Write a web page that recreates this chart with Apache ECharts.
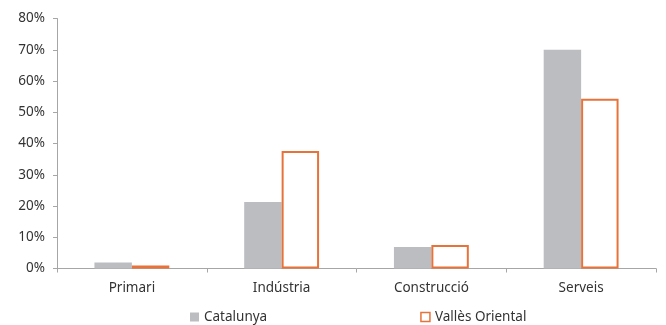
<!DOCTYPE html>
<html><head><meta charset="utf-8">
<script src="https://cdn.jsdelivr.net/npm/echarts@6/dist/echarts.min.js"></script>
<style>html,body{margin:0;padding:0;background:#fff}#c{width:666px;height:325px}</style>
</head><body><div id="c"></div>
<script>
const categories = ['Primari', 'Indústria', 'Construcció', 'Serveis'];
const catalunya = [1.9, 21.3, 6.9, 70.0];
const vallesOriental = [1.0, 37.6, 7.5, 54.3];
const seriesNames = ['Catalunya', 'Vallès Oriental'];

const chart = echarts.init(document.getElementById('c'), null, {renderer: 'canvas'});
const font = 'Noto Sans';
chart.setOption({
  animation: false,
  grid: {left: 57, right: 10, top: 18.5, bottom: 56.5, containLabel: false},
  legend: {
    left: 190, top: 310, padding: 0,
    itemWidth: 9, itemHeight: 9, itemGap: 153,
    textStyle: {fontFamily: font, fontSize: 13.5, color: '#333'},
    data: [
      {name: seriesNames[0], icon: 'rect', itemStyle: {color: '#BCBDC0', borderWidth: 0}},
      {name: seriesNames[1], icon: 'rect', itemStyle: {color: '#fff', borderColor: '#E8733A', borderWidth: 1.5}}
    ]
  },
  xAxis: {
    type: 'category', data: categories,
    axisLine: {lineStyle: {color: '#A6A6A6', width: 1}},
    axisTick: {show: true, alignWithLabel: false, length: 4, lineStyle: {color: '#A6A6A6'}},
    axisLabel: {fontFamily: font, fontSize: 13.5, color: '#333', margin: 13}
  },
  yAxis: {
    type: 'value', min: 0, max: 80, interval: 10,
    splitLine: {show: false},
    axisLine: {show: true, lineStyle: {color: '#A6A6A6'}},
    axisTick: {show: true, length: 4, lineStyle: {color: '#A6A6A6'}},
    axisLabel: {fontFamily: font, fontSize: 13.5, color: '#333', margin: 12, formatter: v => v + '%'}
  },
  series: [
    {name: seriesNames[0], type: 'bar', data: catalunya, barWidth: '25%', barGap: '0%',
     itemStyle: {color: '#BCBDC0'}},
    {name: seriesNames[1], type: 'bar', data: vallesOriental, barWidth: '25%',
     itemStyle: {color: '#fff', borderColor: '#E8733A', borderWidth: 2}}
  ]
});
</script></body></html>
